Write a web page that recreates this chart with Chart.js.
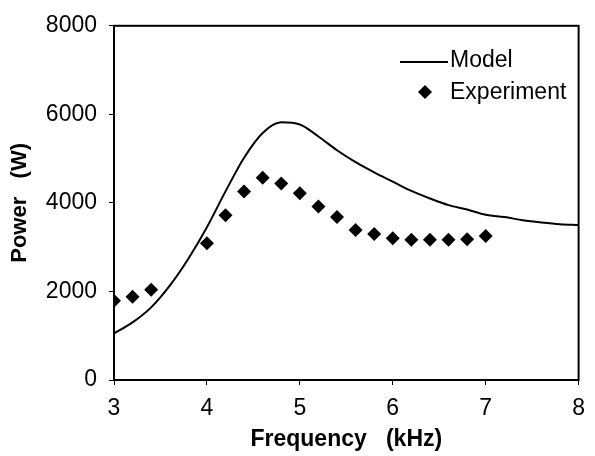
<!DOCTYPE html>
<html>
<head>
<meta charset="utf-8">
<script src="https://cdn.jsdelivr.net/npm/chart.js@4"></script>
<style>
  html, body { margin: 0; padding: 0; background: #fff; }
  #wrap { width: 595px; height: 456px; }
</style>
</head>
<body>
<div id="wrap"><canvas id="grafico" width="595" height="456"></canvas></div>
<script>
// valores
const model_freq = [3.0, 3.2, 3.4, 3.6, 3.8, 4.0, 4.2, 4.4, 4.6, 4.8, 5.0, 5.2, 5.4, 5.6, 5.8, 6.0, 6.2, 6.4, 6.6, 6.8, 7.0, 7.2, 7.4, 7.6, 7.8, 8.0];
const model_power = [1050, 1300, 1640, 2130, 2740, 3450, 4260, 5020, 5580, 5820, 5770, 5500, 5190, 4920, 4690, 4480, 4270, 4100, 3950, 3850, 3730, 3680, 3610, 3560, 3520, 3500];
const exp_freq = [3.0, 3.2, 3.4, 4.0, 4.2, 4.4, 4.6, 4.8, 5.0, 5.2, 5.4, 5.6, 5.8, 6.0, 6.2, 6.4, 6.6, 6.8, 7.0];
const exp_power = [1790, 1880, 2040, 3090, 3720, 4260, 4570, 4440, 4220, 3920, 3680, 3390, 3300, 3200, 3170, 3170, 3170, 3180, 3250];
const x_ticks = [3, 4, 5, 6, 7, 8];
const y_ticks = [0, 2000, 4000, 6000, 8000];

const fonte = 'Arial, "Liberation Sans", sans-serif';

function pares(xs, ys){
    return xs.map(function(x, i){ return {x: x, y: ys[i]}; });
}

// moldura, titulos dos eixos e legenda desenhados à mão
const moldura = {
    id: 'moldura',
    afterDraw: function(chart){
        const c = chart.ctx;
        const a = chart.chartArea;
        c.save();
        c.strokeStyle = '#000';
        c.fillStyle = '#000';
        c.lineWidth = 2;
        c.strokeRect(a.left, a.top, a.right - a.left, a.bottom - a.top);

        // titulos
        c.font = 'bold 23px ' + fonte;
        c.textAlign = 'center';
        c.textBaseline = 'middle';
        c.fillText('Frequency   (kHz)', (a.left + a.right) / 2, 440);
        c.font = 'bold 22px ' + fonte;
        c.save();
        c.translate(20, (a.top + a.bottom) / 2);
        c.rotate(-Math.PI / 2);
        c.fillText('Power   (W)', 0, 0);
        c.restore();

        // legenda
        c.beginPath();
        c.moveTo(400, 62);
        c.lineTo(448, 62);
        c.stroke();
        c.font = '23px ' + fonte;
        c.textAlign = 'left';
        c.textBaseline = 'alphabetic';
        c.fillText('Model', 450, 67);
        c.fillText('Experiment', 450, 99);
        c.beginPath();
        c.moveTo(425, 85);
        c.lineTo(432, 92);
        c.lineTo(425, 99);
        c.lineTo(418, 92);
        c.closePath();
        c.fill();
        c.restore();
    }
};

const ctx = document.getElementById('grafico').getContext('2d');
const myChart = new Chart(ctx, {
    type: 'scatter',
    data: {
        datasets: [{
            label: 'Model',
            data: pares(model_freq, model_power),
            showLine: true,
            borderColor: '#000',
            borderWidth: 2,
            pointRadius: 0,
            cubicInterpolationMode: 'monotone',
            fill: false
        }, {
            label: 'Experiment',
            data: pares(exp_freq, exp_power),
            showLine: false,
            pointStyle: 'rectRot',
            pointRadius: 7,
            backgroundColor: '#000',
            borderColor: '#000',
            borderWidth: 0
        }]
    },
    options: {
        responsive: false,
        animation: false,
        layout: { padding: { top: 23, right: 8, left: 0, bottom: 0 } },
        plugins: {
            legend: { display: false },
            tooltip: { enabled: false }
        },
        scales: {
            x: {
                type: 'linear',
                min: 3,
                max: 8,
                afterBuildTicks: function(scale){
                    scale.ticks = x_ticks.map(function(v){ return {value: v}; });
                },
                afterFit: function(scale){ scale.height = 76; },
                grid: { drawOnChartArea: false, tickLength: 5, color: '#000' },
                border: { display: false },
                ticks: {
                    color: '#000',
                    padding: 10,
                    font: { family: fonte, size: 23 },
                    callback: function(v){ return String(v); }
                }
            },
            y: {
                min: 0,
                max: 8000,
                afterBuildTicks: function(scale){
                    scale.ticks = y_ticks.map(function(v){ return {value: v}; });
                },
                afterFit: function(scale){ scale.width = 114; },
                grid: { drawOnChartArea: false, tickLength: 5, color: '#000' },
                border: { display: false },
                ticks: {
                    color: '#000',
                    padding: 12,
                    font: { family: fonte, size: 23 },
                    callback: function(v){ return String(v); }
                }
            }
        }
    },
    plugins: [moldura]
});
</script>
</body>
</html>
